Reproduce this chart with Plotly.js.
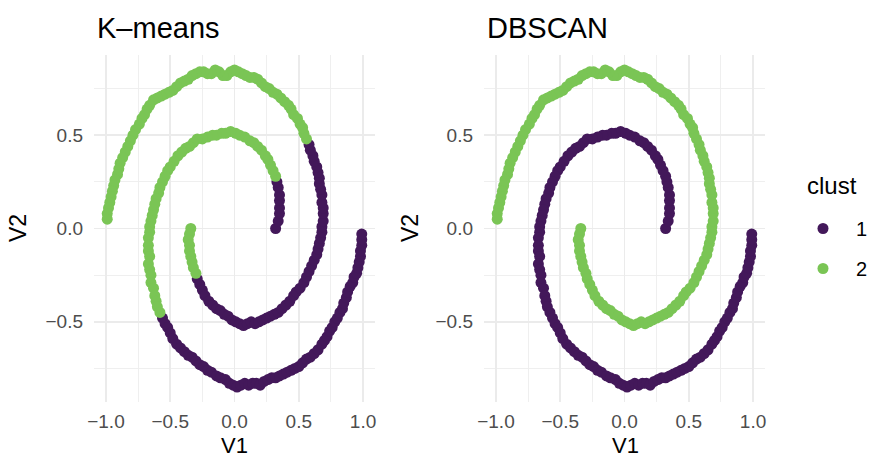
<!DOCTYPE html>
<html>
<head>
<meta charset="utf-8">
<script src="https://cdn.plot.ly/plotly-3.0.1.min.js"></script>
<style>html,body{margin:0;padding:0;background:#fff;}#chart{width:869px;height:460px;}</style>
</head>
<body>
<div id="chart"></div>
<script>
// Spiral drawn as DBSCAN cluster 1 (ordered from the inner end outward)
const s1x = [
  0.32,0.34,0.35,0.35,0.35,0.35,0.34,0.33,0.32,0.30,
  0.28,0.26,0.24,0.21,0.18,0.15,0.12,0.08,0.04,0.01,
  -0.03,-0.07,-0.10,-0.14,-0.17,-0.21,-0.25,-0.29,-0.32,-0.35,
  -0.38,-0.41,-0.44,-0.47,-0.50,-0.52,-0.54,-0.56,-0.58,-0.59,
  -0.61,-0.62,-0.63,-0.64,-0.65,-0.66,-0.66,-0.67,-0.67,-0.67,
  -0.66,-0.67,-0.66,-0.65,-0.65,-0.63,-0.62,-0.61,-0.60,-0.58,
  -0.56,-0.54,-0.52,-0.50,-0.48,-0.45,-0.42,-0.39,-0.36,-0.33,
  -0.30,-0.27,-0.24,-0.21,-0.18,-0.14,-0.11,-0.07,-0.04,-0.01,
  0.02,0.05,0.08,0.11,0.14,0.17,0.20,0.23,0.26,0.29,
  0.32,0.35,0.38,0.41,0.44,0.47,0.50,0.53,0.56,0.59,
  0.62,0.65,0.68,0.70,0.72,0.74,0.76,0.78,0.80,0.82,
  0.84,0.85,0.87,0.88,0.90,0.92,0.93,0.95,0.96,0.97,
  0.98,0.98,0.99,0.99,0.99
];
const s1y = [
  0.00,0.04,0.08,0.11,0.15,0.18,0.22,0.25,0.28,0.31,
  0.34,0.37,0.39,0.42,0.44,0.46,0.47,0.49,0.50,0.51,
  0.52,0.51,0.51,0.50,0.50,0.49,0.48,0.48,0.46,0.44,
  0.43,0.41,0.39,0.36,0.33,0.31,0.28,0.25,0.22,0.19,
  0.16,0.13,0.10,0.07,0.04,0.01,-0.02,-0.05,-0.09,-0.12,
  -0.15,-0.19,-0.22,-0.25,-0.29,-0.32,-0.36,-0.39,-0.42,-0.45,
  -0.48,-0.51,-0.53,-0.56,-0.59,-0.62,-0.64,-0.66,-0.68,-0.69,
  -0.71,-0.73,-0.74,-0.76,-0.77,-0.79,-0.80,-0.81,-0.83,-0.84,
  -0.85,-0.84,-0.83,-0.84,-0.83,-0.83,-0.84,-0.82,-0.81,-0.80,
  -0.80,-0.79,-0.78,-0.77,-0.76,-0.75,-0.74,-0.72,-0.70,-0.69,
  -0.67,-0.65,-0.62,-0.60,-0.58,-0.55,-0.53,-0.50,-0.48,-0.45,
  -0.43,-0.40,-0.37,-0.34,-0.31,-0.29,-0.26,-0.24,-0.21,-0.18,
  -0.15,-0.12,-0.09,-0.06,-0.03
];
// K-means cluster of each point of spiral 1
const km1 = [
  1,1,1,1,1,1,1,1,2,2,
  2,2,2,2,2,2,2,2,2,2,
  2,2,2,2,2,2,2,2,2,2,
  2,2,2,2,2,2,2,2,2,2,
  2,2,2,2,2,2,2,2,2,2,
  2,2,2,2,2,2,2,2,2,2,
  1,1,1,1,1,1,1,1,1,1,
  1,1,1,1,1,1,1,1,1,1,
  1,1,1,1,1,1,1,1,1,1,
  1,1,1,1,1,1,1,1,1,1,
  1,1,1,1,1,1,1,1,1,1,
  1,1,1,1,1,1,1,1,1,1,
  1,1,1,1,1
];
// Spiral drawn as DBSCAN cluster 2 (ordered from the inner end outward)
const s2x = [
  -0.34,-0.35,-0.36,-0.35,-0.35,-0.34,-0.33,-0.32,-0.30,-0.29,
  -0.27,-0.25,-0.23,-0.20,-0.17,-0.14,-0.11,-0.08,-0.05,-0.02,
  0.01,0.04,0.07,0.10,0.13,0.16,0.19,0.22,0.25,0.28,
  0.31,0.34,0.37,0.40,0.43,0.46,0.48,0.51,0.54,0.56,
  0.58,0.60,0.62,0.64,0.65,0.66,0.67,0.68,0.68,0.69,
  0.69,0.69,0.68,0.68,0.67,0.66,0.66,0.65,0.64,0.62,
  0.61,0.59,0.58,0.56,0.54,0.53,0.51,0.49,0.46,0.44,
  0.42,0.39,0.36,0.33,0.30,0.27,0.24,0.21,0.18,0.15,
  0.12,0.09,0.06,0.03,0.00,-0.03,-0.06,-0.09,-0.12,-0.15,
  -0.18,-0.21,-0.24,-0.27,-0.30,-0.33,-0.36,-0.39,-0.42,-0.45,
  -0.48,-0.51,-0.54,-0.57,-0.60,-0.63,-0.66,-0.68,-0.70,-0.72,
  -0.74,-0.77,-0.79,-0.81,-0.83,-0.85,-0.87,-0.89,-0.90,-0.91,
  -0.93,-0.94,-0.95,-0.96,-0.97,-0.98,-0.99,-0.99
];
const s2y = [
  0.00,-0.03,-0.06,-0.09,-0.12,-0.15,-0.18,-0.21,-0.24,-0.27,
  -0.30,-0.33,-0.36,-0.39,-0.41,-0.43,-0.44,-0.46,-0.47,-0.49,
  -0.50,-0.51,-0.52,-0.51,-0.50,-0.51,-0.50,-0.49,-0.48,-0.47,
  -0.46,-0.45,-0.43,-0.41,-0.39,-0.36,-0.34,-0.32,-0.29,-0.26,
  -0.23,-0.20,-0.17,-0.14,-0.11,-0.08,-0.05,-0.02,0.01,0.04,
  0.08,0.11,0.14,0.18,0.21,0.24,0.27,0.30,0.33,0.36,
  0.39,0.42,0.45,0.48,0.51,0.54,0.56,0.59,0.61,0.64,
  0.66,0.68,0.70,0.72,0.73,0.75,0.76,0.78,0.80,0.81,
  0.81,0.82,0.83,0.84,0.85,0.84,0.82,0.82,0.84,0.85,
  0.83,0.83,0.84,0.84,0.83,0.82,0.80,0.79,0.78,0.76,
  0.74,0.73,0.72,0.71,0.70,0.69,0.66,0.64,0.61,0.59,
  0.56,0.53,0.50,0.47,0.44,0.41,0.38,0.35,0.32,0.29,
  0.26,0.23,0.20,0.17,0.14,0.11,0.08,0.05
];
// K-means cluster of each point of spiral 2
const km2 = [
  2,2,2,2,2,2,2,2,2,1,
  1,1,1,1,1,1,1,1,1,1,
  1,1,1,1,1,1,1,1,1,1,
  1,1,1,1,1,1,1,1,1,1,
  1,1,1,1,1,1,1,1,1,1,
  1,1,1,1,1,1,1,1,1,1,
  1,1,1,2,2,2,2,2,2,2,
  2,2,2,2,2,2,2,2,2,2,
  2,2,2,2,2,2,2,2,2,2,
  2,2,2,2,2,2,2,2,2,2,
  2,2,2,2,2,2,2,2,2,2,
  2,2,2,2,2,2,2,2,2,2,
  2,2,2,2,2,2,2,2
];

const clusterNames = ['1', '2'];
const colors = {'1': '#43185A', '2': '#7AC555'};
const tickX = [-1, -0.5, 0, 0.5, 1];
const tickXText = ['\u22121.0', '\u22120.5', '0.0', '0.5', '1.0'];
const tickY = [-0.5, 0, 0.5];
const tickYText = ['\u22120.5', '0.0', '0.5'];
const minorX = [-0.75, -0.25, 0.25, 0.75];
const minorY = [-0.75, -0.25, 0.25, 0.75];

function pick(labelsA, labelsB, lab) {
  const x = [], y = [];
  labelsA.forEach((l, i) => { if (String(l) === lab) { x.push(s1x[i]); y.push(s1y[i]); } });
  labelsB.forEach((l, i) => { if (String(l) === lab) { x.push(s2x[i]); y.push(s2y[i]); } });
  return {x, y};
}

const ones1 = s1x.map(() => 1), twos2 = s2x.map(() => 2);
const MS = 11;
const traces = [];
clusterNames.forEach(c => {
  const p = pick(km1, km2, c);
  traces.push({type: 'scatter', mode: 'markers', x: p.x, y: p.y, xaxis: 'x', yaxis: 'y',
    name: c, legendgroup: 'g' + c, showlegend: false,
    marker: {color: colors[c], size: MS, line: {width: 0}}, hoverinfo: 'skip'});
});
clusterNames.forEach(c => {
  const p = pick(ones1, twos2, c);
  traces.push({type: 'scatter', mode: 'markers', x: p.x, y: p.y, xaxis: 'x2', yaxis: 'y2',
    name: c, legendgroup: 'g' + c, showlegend: true,
    marker: {color: colors[c], size: MS, line: {width: 0}}, hoverinfo: 'skip'});
});

const FONT = 'Liberation Sans, Arial, Helvetica, sans-serif';
const W = 869, H = 460;
function xAxis(dom, anchor) {
  return {domain: dom, anchor: anchor, range: [-1.093, 1.093], tickvals: tickX, ticktext: tickXText,
    showgrid: true, gridcolor: '#EBEBEB', gridwidth: 1.6, zeroline: false, showline: false, ticks: '',
    tickfont: {family: FONT, size: 19, color: '#4D4D4D'}, ticklabelstandoff: 6,
    minor: {tickvals: minorX, showgrid: true, gridcolor: '#EDEDED', gridwidth: 0.9, ticks: ''},
    fixedrange: true, automargin: false};
}
function yAxis(anchor) {
  return {domain: [1 - 402 / H, 1 - 55 / H], anchor: anchor, range: [-0.93, 0.93], tickvals: tickY, ticktext: tickYText,
    showgrid: true, gridcolor: '#EBEBEB', gridwidth: 1.6, zeroline: false, showline: false, ticks: '',
    tickfont: {family: FONT, size: 19, color: '#4D4D4D'}, ticklabelstandoff: 10,
    minor: {tickvals: minorY, showgrid: true, gridcolor: '#EDEDED', gridwidth: 0.9, ticks: ''},
    fixedrange: true, automargin: false};
}

const ann = (text, px, py, size, opts) => Object.assign({text: text, xref: 'paper', yref: 'paper',
  x: px / W, y: 1 - py / H, showarrow: false, font: {family: FONT, size: size, color: '#000'},
  xanchor: 'center', yanchor: 'middle'}, opts || {});

const layout = {
  width: W, height: H,
  margin: {l: 0, r: 0, t: 0, b: 0, autoexpand: false},
  paper_bgcolor: '#fff', plot_bgcolor: '#fff',
  showlegend: true,
  xaxis: xAxis([94 / W, 375 / W], 'y'),
  yaxis: yAxis('x'),
  xaxis2: xAxis([484 / W, 765 / W], 'y2'),
  yaxis2: yAxis('x2'),
  legend: {x: 790 / W, y: 1 - 209 / H, xanchor: 'left', yanchor: 'top',
    font: {family: FONT, size: 20, color: '#000'}, tracegroupgap: 11, itemwidth: 56,
    bgcolor: 'rgba(0,0,0,0)', borderwidth: 0},
  annotations: [
    ann('K\u2013means', 95, 28, 29, {xanchor: 'left'}),
    ann('DBSCAN', 485, 28, 29, {xanchor: 'left'}),
    ann('V1', 234.5, 445, 22),
    ann('V1', 625, 445, 22),
    ann('V2', 18, 228, 23, {textangle: -90}),
    ann('V2', 410, 228, 23, {textangle: -90}),
    ann('clust', 805, 185, 24, {xanchor: 'left'})
  ]
};

Plotly.newPlot('chart', traces, layout, {displayModeBar: false, staticPlot: true});
</script>
</body>
</html>
